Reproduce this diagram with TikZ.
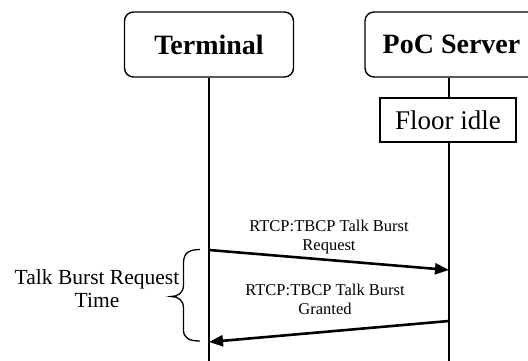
\documentclass[tikz,border=0pt]{standalone}
\usepackage{fontspec}
\setmainfont{Liberation Serif}
\usetikzlibrary{arrows.meta}
\begin{document}
\begin{tikzpicture}[x=1pt,y=-1pt,
  actor/.style={draw,line width=1.4pt,rounded corners=9pt,minimum height=65pt,inner sep=0pt,
    font=\fontsize{28}{32}\selectfont\bfseries},
  statebox/.style={draw,line width=1.3pt,minimum width=136pt,minimum height=44pt,inner sep=0pt,fill=white,
    font=\fontsize{27}{31}\selectfont},
  lifeline/.style={line width=1.2pt},
  msg/.style={line width=2.6pt,-{Triangle[length=14pt,width=11pt]}},
  msglabel/.style={align=center,inner sep=0pt,font=\fontsize{16.5}{18.5}\selectfont},
  sidelabel/.style={align=center,inner sep=0pt,font=\fontsize{21.5}{23}\selectfont}]
\useasboundingbox (0,0) rectangle (528,361);
\node[actor,minimum width=169pt] (term) at (209,44.5) {Terminal};
\node[actor,minimum width=173pt] (poc) at (451.5,44.5) {PoC Server};
\node[statebox] (floor) at (448,120) {Floor idle};
\coordinate (tend) at (209,361);
\coordinate (pend) at (449,361);
\draw[lifeline] (term.south) -- (tend);
\draw[lifeline] (poc.south -| pend) -- (floor.north -| pend);
\draw[lifeline] (floor.south -| pend) -- (pend);
\coordinate (r1) at (209,250);
\coordinate (r2) at (449,270);
\coordinate (g1) at (449,321);
\coordinate (g2) at (209,342);
\draw[msg] (r1) -- (r2);
\draw[msg] (g1) -- (g2);
\node[msglabel] (l1) at (329,237) {RTCP:TBCP Talk Burst\\Request};
\node[msglabel] (l2) at (325,299.5) {RTCP:TBCP Talk Burst\\Granted};
\coordinate (bt) at (200,249.5);
\coordinate (bb) at (200,341);
\draw[line width=1.3pt] (bt) .. controls (189,249.5) and (183.5,253) .. (183.5,263)
  -- (183.5,285) .. controls (183.5,293) and (178,296.5) .. (171,296.5)
  .. controls (178,296.5) and (183.5,300) .. (183.5,308)
  -- (183.5,330) .. controls (183.5,338) and (189,341) .. (bb);
\node[sidelabel] (side) at (97,289) {Talk Burst Request\\Time};
\end{tikzpicture}
\end{document}
